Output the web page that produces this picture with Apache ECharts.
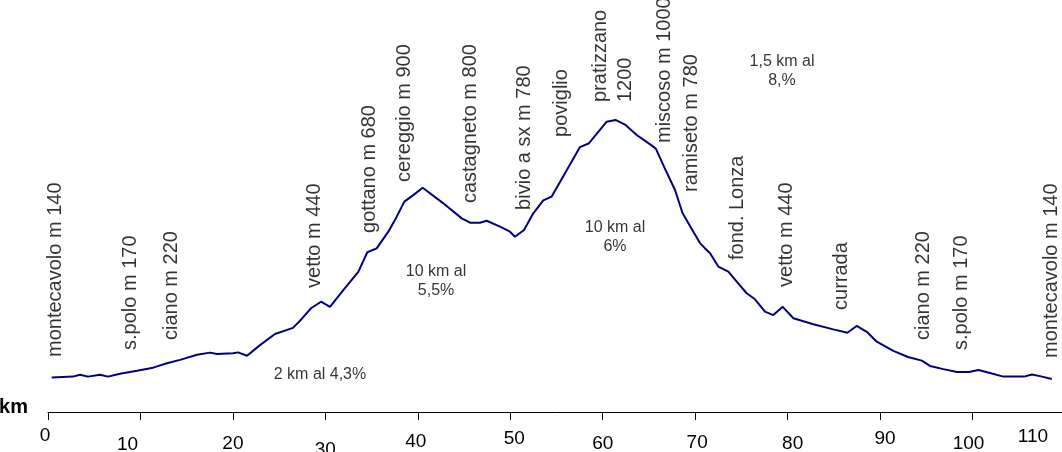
<!DOCTYPE html>
<html>
<head>
<meta charset="utf-8">
<script src="https://cdn.jsdelivr.net/npm/echarts@6/dist/echarts.min.js"></script>
<style>
html,body{margin:0;padding:0;background:#fff;}
#c{width:1062px;height:452px;}
</style>
</head>
<body>
<div id="c"></div>
<script>
// distance (km) and altitude (m) of the profile
const kmValues = [0.40, 2.70, 3.46, 4.33, 5.62, 6.49, 7.79, 9.63, 11.36, 12.87, 14.28, 16.12, 17.52, 18.28, 20.01, 20.55, 21.53, 22.93, 24.55, 26.50, 27.44, 28.45, 29.53, 30.50, 31.94, 33.56, 34.54, 35.55, 36.81, 37.72, 38.54, 39.51, 40.53, 42.76, 44.75, 45.65, 46.73, 47.45, 48.89, 49.97, 50.51, 51.49, 52.49, 53.57, 54.48, 55.92, 57.54, 58.52, 60.43, 61.38, 62.41, 63.68, 65.47, 65.77, 66.79, 67.82, 68.63, 69.80, 70.52, 71.07, 71.61, 72.50, 73.59, 74.49, 75.57, 76.47, 77.55, 78.45, 79.47, 80.62, 82.78, 84.94, 86.46, 87.47, 88.56, 89.64, 91.43, 93.02, 94.51, 95.40, 96.84, 98.32, 99.62, 100.63, 101.89, 103.33, 105.57, 106.43, 107.52, 108.57];
const elevValues = [142, 146, 154, 146, 154, 146, 158, 170, 183, 201, 215, 236, 245, 239, 242, 246, 232, 276, 322, 347, 384, 428, 455, 434, 503, 578, 659, 675, 744, 806, 868, 895, 925, 861, 799, 781, 781, 789, 765, 744, 723, 751, 820, 873, 889, 985, 1093, 1109, 1198, 1205, 1186, 1143, 1095, 1085, 999, 916, 821, 744, 697, 675, 655, 600, 579, 538, 490, 465, 414, 400, 434, 387, 362, 341, 327, 355, 331, 290, 252, 227, 212, 190, 177, 165, 165, 173, 161, 146, 146, 155, 146, 136];

// place names along the route
const placeNames = ['montecavolo m 140', 's.polo m 170', 'ciano m 220', 'vetto m 440', 'gottano m 680', 'cereggio m 900', 'castagneto m 800', 'bivio a sx m 780', 'poviglio', 'pratizzano\n1200', 'miscoso m 1000', 'ramiseto m 780', 'fond. Lonza', 'vetto m 440', 'currada', 'ciano m 220', 's.polo m 170', 'montecavolo m 140'];
const placeKm = [0.81, 8.87, 13.41, 28.77, 34.72, 38.51, 45.65, 51.49, 55.49, 61.06, 66.68, 69.61, 74.58, 79.88, 85.78, 94.70, 98.81, 108.55];
const placeElev = [227, 256, 297, 512, 739, 949, 862, 834, 1135, 1279, 1110, 908, 627, 516, 421, 297, 256, 223];

// gradient notes
const gradeNotes = ['2 km al 4,3%', '10 km al\n5,5%', '10 km al\n6%', '1,5 km al\n8,%'];
const gradeKm = [29.42, 41.97, 61.33, 79.39];
const gradeElev = [153, 541, 720, 1407];

// x axis tick labels
const xTickLabels = ['0', '10', '20', '30', '40', '50', '60', '70', '80', '90', '100', '110'];

const FONT = '"Liberation Sans", Arial, sans-serif';

// per-label nudges [dx, dy] reproducing the reference's jittered tick labels
const tickNudge = [[-3,0],[-13,9],[0,8],[0,14],[-2,6],[4,3],[0,8],[2,7],[5,8],[5,3],[-4,8],[-32,1]];
const rich = {};
xTickLabels.forEach((t, i) => {
  const dx = tickNudge[i][0], dy = tickNudge[i][1];
  rich['t' + i] = {
    fontFamily: FONT, fontSize: 19, color: '#000', lineHeight: 20,
    padding: [2 * dy, dx < 0 ? -2 * dx : 0, 0, dx > 0 ? 2 * dx : 0]
  };
});

const chart = echarts.init(document.getElementById('c'), null, {renderer: 'canvas'});
chart.setOption({
  animation: false,
  backgroundColor: '#fff',
  grid: {left: 48, right: -3, top: 0, bottom: 40, containLabel: false, outerBoundsMode: 'none'},
  xAxis: {
    type: 'value', min: 0, max: 110, interval: 10,
    name: '{k|km}', nameLocation: 'start', nameGap: 20,
    nameTextStyle: {
      rich: {k: {fontFamily: FONT, fontSize: 20, fontWeight: 'bold', color: '#000', lineHeight: 20, padding: [0, 0, 9, 0]}}
    },
    axisLine: {show: true, lineStyle: {color: '#000', width: 1}},
    axisTick: {show: true, length: 8, lineStyle: {color: '#000', width: 1}},
    splitLine: {show: false},
    axisLabel: {
      margin: 14, showMinLabel: true, showMaxLabel: true,
      formatter: function (v) {
        const i = Math.round(v / 10);
        return '{t' + i + '|' + xTickLabels[i] + '}';
      },
      rich: rich
    }
  },
  yAxis: {type: 'value', min: 0, max: 1700, show: false},
  series: [
    {
      type: 'line',
      data: kmValues.map((k, i) => [k, elevValues[i]]),
      symbol: 'none', smooth: false,
      lineStyle: {color: '#000080', width: 2},
      silent: true
    },
    {
      type: 'scatter', symbolSize: 0, silent: true,
      data: placeNames.map((n, i) => ({name: n, value: [placeKm[i], placeElev[i]]})),
      label: {
        show: true, position: [0, 0], rotate: 90, align: 'left', verticalAlign: 'middle',
        formatter: p => p.name, fontFamily: FONT, fontSize: 20, lineHeight: 25, color: '#000'
      }
    },
    {
      type: 'scatter', symbolSize: 0, silent: true,
      data: gradeNotes.map((n, i) => ({name: n, value: [gradeKm[i], gradeElev[i]]})),
      label: {
        show: true, position: [0, 0], align: 'center', verticalAlign: 'middle',
        formatter: p => p.name, fontFamily: FONT, fontSize: 16, lineHeight: 19, color: '#000'
      }
    }
  ]
});
</script>
</body>
</html>
